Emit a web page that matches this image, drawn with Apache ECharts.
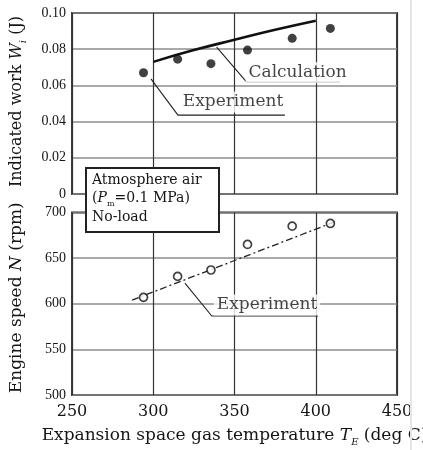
<!DOCTYPE html>
<html>
<head>
<meta charset="utf-8">
<script src="https://cdn.jsdelivr.net/npm/echarts@6/dist/echarts.min.js"></script>
<style>
html,body{margin:0;padding:0;background:#fff;}
#chart{width:423px;height:450px;}
</style>
</head>
<body>
<div id="chart"></div>
<script>
// ---- data ----
var temps = [294, 315, 335.5, 358, 385.5, 409];          // T_E (deg C)
var workExp = [0.067, 0.0745, 0.072, 0.0795, 0.086, 0.0915]; // W_i (J), experiment
var calcT = [300, 325, 350, 375, 400];
var calcW = [0.073, 0.0795, 0.0852, 0.0907, 0.0957];     // W_i (J), calculation
var speedExp = [607, 630, 637, 665, 685, 688];           // N (rpm), experiment
var fitT = [287, 412];
var fitN = [604, 690];                                    // dash-dot trend line
var xTicks = [250, 300, 350, 400, 450];
var wTicks = [0, 0.02, 0.04, 0.06, 0.08, 0.10];
var nTicks = [500, 550, 600, 650, 700];

// annotation anchors (data coordinates)
var calcLeader = [[339, 0.0812], [357.5, 0.0618], [415, 0.0618]];
var expTopLeader = [[298.6, 0.0636], [315.2, 0.0436], [381, 0.0436]];
var expBotLeader = [[319.5, 622.7], [336, 586.6], [401.4, 586.6]];
var calcLabelAt = [388.8, 0.067];
var expTopLabelAt = [349.1, 0.0508];
var expBotLabelAt = [370, 598.6];

function zip(a, b) { return a.map(function (v, i) { return [v, b[i]]; }); }

var serif = 'DejaVu Serif';
var ink = '#151515';
function richName(fs) {
  return {
    it: {fontStyle: 'italic', fontFamily: serif, fontSize: fs, color: ink, lineHeight: 22},
    sub: {fontFamily: serif, fontStyle: 'italic', fontSize: 10, color: ink, lineHeight: 10, verticalAlign: 'bottom'}
  };
}

function xAxisCfg(grid, showLabels) {
  return {
    type: 'value', gridIndex: grid, min: xTicks[0], max: xTicks[xTicks.length - 1], interval: 50,
    axisLine: {show: false}, axisTick: {show: false},
    axisLabel: {show: showLabels, fontFamily: serif, fontSize: 16, color: ink, margin: 9},
    splitLine: {show: true, lineStyle: {color: '#333', width: 1.2}}
  };
}

var option = {
  animation: false,
  backgroundColor: '#fff',
  textStyle: {fontFamily: serif},
  grid: [
    {left: 72, top: 13, width: 325, height: 181, show: true, borderColor: '#2a2a2a', borderWidth: 1.8,
      backgroundColor: 'transparent', containLabel: false, outerBoundsMode: 'none'},
    {left: 72, top: 212.5, width: 325, height: 182.5, show: true, borderColor: '#2a2a2a', borderWidth: 1.8,
      backgroundColor: 'transparent', containLabel: false, outerBoundsMode: 'none'}
  ],
  xAxis: [
    xAxisCfg(0, false),
    Object.assign(xAxisCfg(1, true), {
      name: 'Expansion space gas temperature {it|T}{sub|E} (deg C)',
      nameLocation: 'middle', nameGap: 30,
      nameTextStyle: {fontFamily: serif, fontSize: 17, color: ink, lineHeight: 22, rich: richName(17)}
    })
  ],
  yAxis: [
    {
      type: 'value', gridIndex: 0, min: wTicks[0], max: wTicks[wTicks.length - 1], interval: 0.02,
      axisLine: {show: false}, axisTick: {show: false},
      axisLabel: {fontFamily: 'Liberation Serif', fontSize: 14, color: ink, margin: 6,
        formatter: function (v) { return v === 0 ? '0' : v.toFixed(2); }},
      splitLine: {show: true, lineStyle: {color: '#8c8c8c', width: 1.5}},
      name: 'Indicated work {it|W}{sub|i} (J)',
      nameLocation: 'middle', nameGap: 44,
      nameTextStyle: {fontFamily: serif, fontSize: 16, color: ink, lineHeight: 22, rich: richName(16), padding: [0, 0, 0, 4]}
    },
    {
      type: 'value', gridIndex: 1, min: nTicks[0], max: nTicks[nTicks.length - 1], interval: 50,
      axisLine: {show: false}, axisTick: {show: false},
      axisLabel: {fontFamily: 'Liberation Serif', fontSize: 14, color: ink, margin: 6},
      splitLine: {show: true, lineStyle: {color: '#8c8c8c', width: 1.5}},
      name: 'Engine speed {it|N} (rpm)',
      nameLocation: 'middle', nameGap: 44,
      nameTextStyle: {fontFamily: serif, fontSize: 17, color: ink, lineHeight: 22, rich: richName(17), padding: [0, 0, 0, 12]}
    }
  ],
  series: [
    {
      type: 'line', xAxisIndex: 0, yAxisIndex: 0, data: zip(calcT, calcW), smooth: true,
      symbol: 'none', lineStyle: {color: '#111', width: 2.6}, silent: true, z: 5
    },
    {
      type: 'scatter', xAxisIndex: 0, yAxisIndex: 0, data: zip(temps, workExp),
      symbol: 'circle', symbolSize: 9, itemStyle: {color: '#111'}, z: 6
    },
    {
      type: 'line', xAxisIndex: 1, yAxisIndex: 1, data: zip(fitT, fitN),
      symbol: 'none', lineStyle: {color: '#222', width: 1.3, type: [7, 3, 2, 3]}, silent: true, z: 5
    },
    {
      type: 'scatter', xAxisIndex: 1, yAxisIndex: 1, data: zip(temps, speedExp),
      symbol: 'circle', symbolSize: 8,
      itemStyle: {color: '#fff', borderColor: '#111', borderWidth: 1.7}, z: 6
    },
    // leader lines
    {type: 'line', xAxisIndex: 0, yAxisIndex: 0, data: calcLeader, symbol: 'none', silent: true,
      lineStyle: {color: '#222', width: 1.1}, z: 4},
    {type: 'line', xAxisIndex: 0, yAxisIndex: 0, data: expTopLeader, symbol: 'none', silent: true,
      lineStyle: {color: '#222', width: 1.1}, z: 4},
    {type: 'line', xAxisIndex: 1, yAxisIndex: 1, data: expBotLeader, symbol: 'none', silent: true,
      lineStyle: {color: '#222', width: 1.1}, z: 4},
    // annotation labels
    {type: 'scatter', xAxisIndex: 0, yAxisIndex: 0, symbolSize: 0, silent: true, z: 7,
      data: [{value: calcLabelAt, label: {formatter: 'Calculation'}},
             {value: expTopLabelAt, label: {formatter: 'Experiment'}}],
      label: {show: true, position: 'inside', fontFamily: serif, fontSize: 17, color: ink,
        backgroundColor: '#fff', padding: [2, 3]}},
    {type: 'scatter', xAxisIndex: 1, yAxisIndex: 1, symbolSize: 0, silent: true, z: 7,
      data: [{value: expBotLabelAt, label: {formatter: 'Experiment'}}],
      label: {show: true, position: 'inside', fontFamily: serif, fontSize: 17, color: ink,
        backgroundColor: '#fff', padding: [2, 3]}}
  ],
  graphic: [
    {type: 'line', z: 1, shape: {x1: 411, y1: 0, x2: 411, y2: 450}, style: {stroke: '#e6e6e6', lineWidth: 2}},
    {type: 'rect', z: 100, shape: {x: 86, y: 168, width: 133, height: 64},
      style: {fill: '#fff', stroke: '#222', lineWidth: 2}},
    {type: 'text', z: 101, left: 92, top: 171,
      style: {
        text: 'Atmosphere air\n({it|P}{sub|m}=0.1 MPa)\nNo-load',
        fontFamily: serif, fontSize: 14, lineHeight: 18.5, fill: ink,
        rich: {
          it: {fontStyle: 'italic', fontFamily: serif, fontSize: 14, fill: ink, lineHeight: 18.5},
          sub: {fontFamily: serif, fontSize: 8, fill: ink, lineHeight: 13, verticalAlign: 'bottom'}
        }
      }}
  ]
};

var chart = echarts.init(document.getElementById('chart'), null, {renderer: 'canvas'});
chart.setOption(option);
</script>
</body>
</html>
